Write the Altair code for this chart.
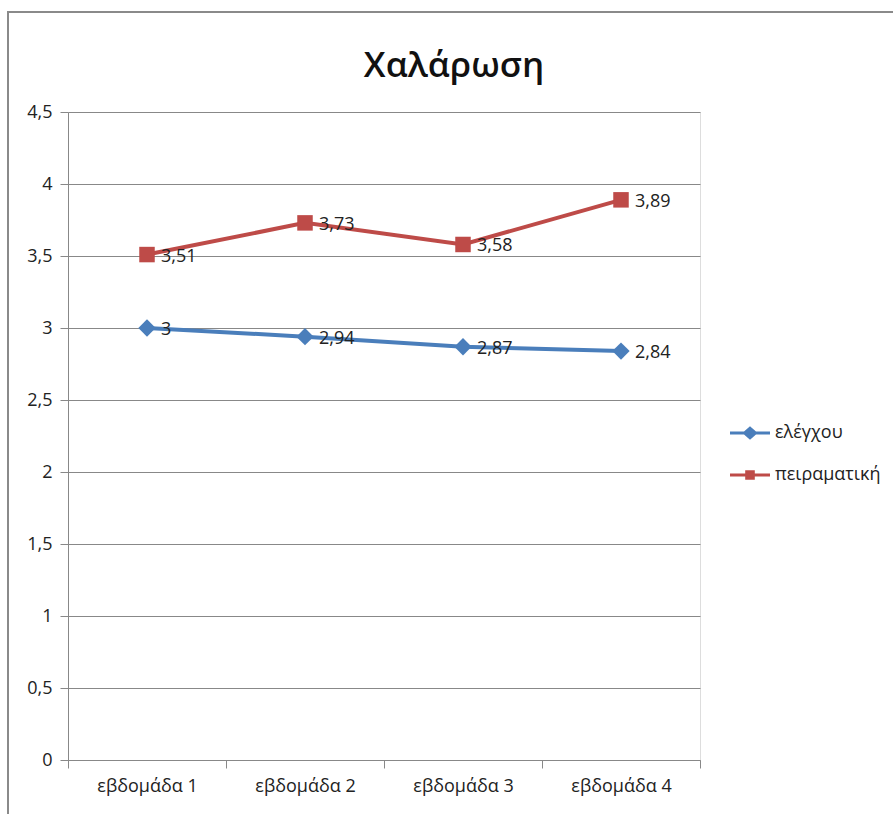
import altair as alt
import pandas as pd

# Weekly mean relaxation scores for the two groups
weeks = ["εβδομάδα 1", "εβδομάδα 2", "εβδομάδα 3", "εβδομάδα 4"]
control = [3.00, 2.94, 2.87, 2.84]
experimental = [3.51, 3.73, 3.58, 3.89]
series_names = ["ελέγχου", "πειραματική"]
series_colors = ["#4A7EBB", "#BE4B48"]

rows = []
for w, v in zip(weeks, control):
    rows.append({"week": w, "group": series_names[0], "value": v})
for w, v in zip(weeks, experimental):
    rows.append({"week": w, "group": series_names[1], "value": v})
df = pd.DataFrame(rows)

FONT = "Open Sans, Noto Sans, sans-serif"
W, H = 632, 648
PAD_L, PAD_T = 68, 112

# legend glyphs: a short line segment with the series marker in the middle
diamond_glyph = "M-1,-0.08H-0.3L0,-0.34L0.3,-0.08H1V0.08H0.3L0,0.34L-0.3,0.08H-1Z"
square_glyph = "M-1,-0.08H-0.24V-0.24H0.24V-0.08H1V0.08H0.24V0.24H-0.24V0.08H-1Z"

x_enc = alt.X(
    "week:N",
    sort=weeks,
    scale=alt.Scale(type="band", paddingInner=0, paddingOuter=0),
    axis=alt.Axis(
        title=None,
        tickBand="extent",
        grid=False,
        labelFontSize=18,
        labelFont=FONT,
        labelColor="#222",
        labelPadding=9,
        tickSize=8,
        tickColor="#888",
        domainColor="#888",
        labelAngle=0,
    ),
)
y_enc = alt.Y(
    "value:Q",
    scale=alt.Scale(domain=[0, 4.5], nice=False),
    axis=alt.Axis(
        title=None,
        values=[0, 0.5, 1, 1.5, 2, 2.5, 3, 3.5, 4, 4.5],
        labelExpr="replace(format(datum.value, '~g'), '.', ',')",
        labelFontSize=18,
        labelFont=FONT,
        labelColor="#222",
        labelPadding=8,
        tickSize=8,
        tickColor="#888",
        domainColor="#888",
        gridColor="#888",
        gridWidth=1.2,
    ),
)
color_scale = alt.Scale(domain=series_names, range=series_colors)

base = alt.Chart(df)

lines = base.mark_line(strokeWidth=4).encode(
    x=x_enc, y=y_enc, color=alt.Color("group:N", scale=color_scale)
)

diamonds = base.transform_filter(
    alt.datum.group == series_names[0]
).mark_point(filled=True, opacity=1, strokeWidth=0, shape="diamond", size=300).encode(
    x=x_enc, y=y_enc, color=alt.Color("group:N", scale=color_scale)
)

squares = base.transform_filter(
    alt.datum.group == series_names[1]
).mark_point(filled=True, opacity=1, strokeWidth=0, shape="square", size=240).encode(
    x=x_enc, y=y_enc, color=alt.Color("group:N", scale=color_scale)
)

labels = base.transform_calculate(
    label="replace(format(datum.value, '~g'), '.', ',')"
).mark_text(
    align="left", baseline="middle", dx=14, dy=2, fontSize=18, font=FONT, color="#222"
).encode(x=x_enc, y=y_enc, text="label:N")

# empty layer that carries the legend with line+marker glyphs
legend_layer = base.transform_filter("false").mark_point(
    filled=True, opacity=1, strokeWidth=0
).encode(
    x=x_enc,
    y=y_enc,
    color=alt.Color("group:N", scale=color_scale),
    shape=alt.Shape(
        "group:N",
        scale=alt.Scale(domain=series_names, range=[diamond_glyph, square_glyph]),
    ),
)

# outer chart frame
frame = alt.Chart(pd.DataFrame({"k": [0]})).mark_rect(
    fill=None, stroke="#8a8a8a", strokeWidth=2
).encode(
    x=alt.value(8 - PAD_L),
    y=alt.value(12 - PAD_T),
    x2=alt.value(893 - PAD_L + 20),
    y2=alt.value(814 - PAD_T + 20),
)

chart = alt.layer(frame, lines, diamonds, squares, labels, legend_layer).properties(
    width=W,
    height=H,
    title=alt.TitleParams(
        "Χαλάρωση",
        font=FONT,
        fontSize=35,
        fontWeight=600,
        color="#111",
        anchor="middle",
        frame="group",
        dx=70,
        offset=-73,
    ),
    padding={"left": PAD_L, "top": PAD_T, "right": 893 - PAD_L - W, "bottom": 814 - PAD_T - H},
    autosize=alt.AutoSizeParams(type="none"),
).configure_view(stroke=None).configure(background="white").configure_legend(
    title=None,
    orient="none",
    legendX=662,
    legendY=301,
    labelFont=FONT,
    labelFontSize=18,
    labelColor="#222",
    symbolSize=1600,
    symbolStrokeWidth=0,
    symbolOpacity=1,
    rowPadding=13,
    labelOffset=5,
)

chart.save("out.html", embed_options={"renderer": "svg", "actions": False})
